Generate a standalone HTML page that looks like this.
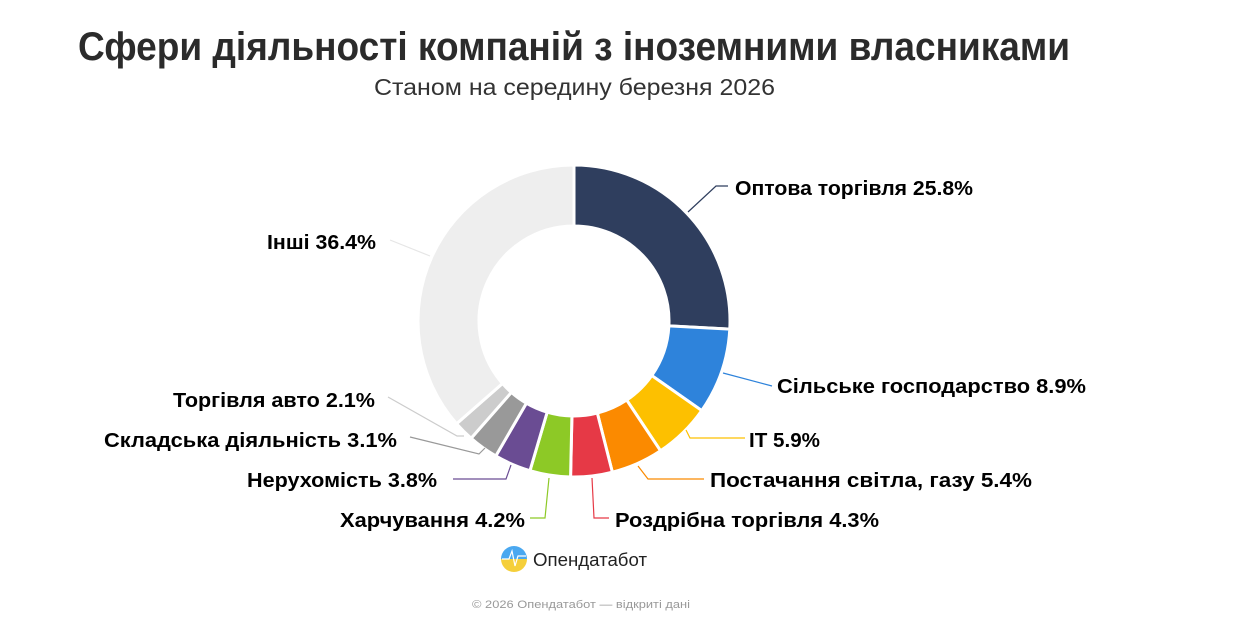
<!DOCTYPE html>
<html><head><meta charset="utf-8"><style>
html,body{margin:0;padding:0;background:#fff;}
svg{display:block;font-family:"Liberation Sans",sans-serif;}
</style></head><body>
<svg id="s" width="1236" height="623" xmlns="http://www.w3.org/2000/svg">
<text x="78" y="60" font-size="40" font-weight="bold" fill="#2b2b2b" textLength="992" lengthAdjust="spacingAndGlyphs">Сфери діяльності компаній з іноземними власниками</text>
<text x="374" y="95" font-size="23" fill="#333" textLength="401" lengthAdjust="spacingAndGlyphs">Станом на середину березня 2026</text>
<g id="d"></g>
<g fill="none" stroke-width="1.2">
<polyline points="688,212 716,186 728,186" stroke="#2f3e5e"/>
<polyline points="723,373 772,386" stroke="#2e83db"/>
<polyline points="686,430 690,438 745,438" stroke="#fdc000"/>
<polyline points="638,466 648,479 704,479" stroke="#fb8a00"/>
<polyline points="592,478 594,518 609,518" stroke="#e63946"/>
<polyline points="549,478 545,518 530,518" stroke="#8dc926"/>
<polyline points="511,465 506,479 453,479" stroke="#6a4c93"/>
<polyline points="485,448 479,454 410,437" stroke="#999"/>
<polyline points="464,436 457,436 388,397" stroke="#ccc"/>
<polyline points="430,256 390,240" stroke="#e6e6e6"/>
</g>
<g font-size="20" font-weight="bold" fill="#000">
<text x="735" y="195" textLength="238" lengthAdjust="spacingAndGlyphs">Оптова торгівля 25.8%</text>
<text x="777" y="393" textLength="309" lengthAdjust="spacingAndGlyphs">Сільське господарство 8.9%</text>
<text x="749" y="447" textLength="71" lengthAdjust="spacingAndGlyphs">IT 5.9%</text>
<text x="710" y="487" textLength="322" lengthAdjust="spacingAndGlyphs">Постачання світла, газу 5.4%</text>
<text x="615" y="527" textLength="264" lengthAdjust="spacingAndGlyphs">Роздрібна торгівля 4.3%</text>
<text x="340" y="527" textLength="185" lengthAdjust="spacingAndGlyphs">Харчування 4.2%</text>
<text x="247" y="487" textLength="190" lengthAdjust="spacingAndGlyphs">Нерухомість 3.8%</text>
<text x="104" y="447" textLength="293" lengthAdjust="spacingAndGlyphs">Складська діяльність 3.1%</text>
<text x="173" y="407" textLength="202" lengthAdjust="spacingAndGlyphs">Торгівля авто 2.1%</text>
<text x="267" y="249" textLength="109" lengthAdjust="spacingAndGlyphs">Інші 36.4%</text>
</g>
<defs><linearGradient id="lg" x1="0" y1="0" x2="0" y2="1"><stop offset="0.5" stop-color="#4aa8f0"/><stop offset="0.5" stop-color="#f5cf3a"/></linearGradient></defs>
<circle cx="514" cy="559" r="13" fill="url(#lg)"/>
<polyline points="502,559 509,559 512,551 515,566 518,556 526,556" fill="none" stroke="#fff" stroke-width="1.2"/>
<text x="533" y="566" font-size="18" fill="#222" textLength="114" lengthAdjust="spacingAndGlyphs">Опендатабот</text>
<text x="472" y="608" font-size="11" fill="#999" textLength="218" lengthAdjust="spacingAndGlyphs">© 2026 Опендатабот — відкриті дані</text>
</svg>
<script>
var data=[[25.8,"#2f3e5e"],[8.9,"#2e83db"],[5.9,"#fdc000"],[5.4,"#fb8a00"],[4.3,"#e63946"],[4.2,"#8dc926"],[3.8,"#6a4c93"],[3.1,"#999999"],[2.1,"#cccccc"],[36.4,"#eeeeee"]];
var cx=574,cy=321,R=156,r=95,tot=99.9,a=0,g="";
function p(rad,ang){return (cx+rad*Math.sin(ang)).toFixed(2)+","+(cy-rad*Math.cos(ang)).toFixed(2);}
data.forEach(function(d){var a0=a/tot*2*Math.PI;a+=d[0];var a1=a/tot*2*Math.PI;var l=(a1-a0)>Math.PI?1:0;
g+='<path d="M'+p(R,a0)+' A'+R+','+R+' 0 '+l+' 1 '+p(R,a1)+' L'+p(r,a1)+' A'+r+','+r+' 0 '+l+' 0 '+p(r,a0)+' Z" fill="'+d[1]+'" stroke="#fff" stroke-width="3" stroke-linejoin="round"/>';});
document.getElementById("d").innerHTML=g;
</script>
</body></html>
